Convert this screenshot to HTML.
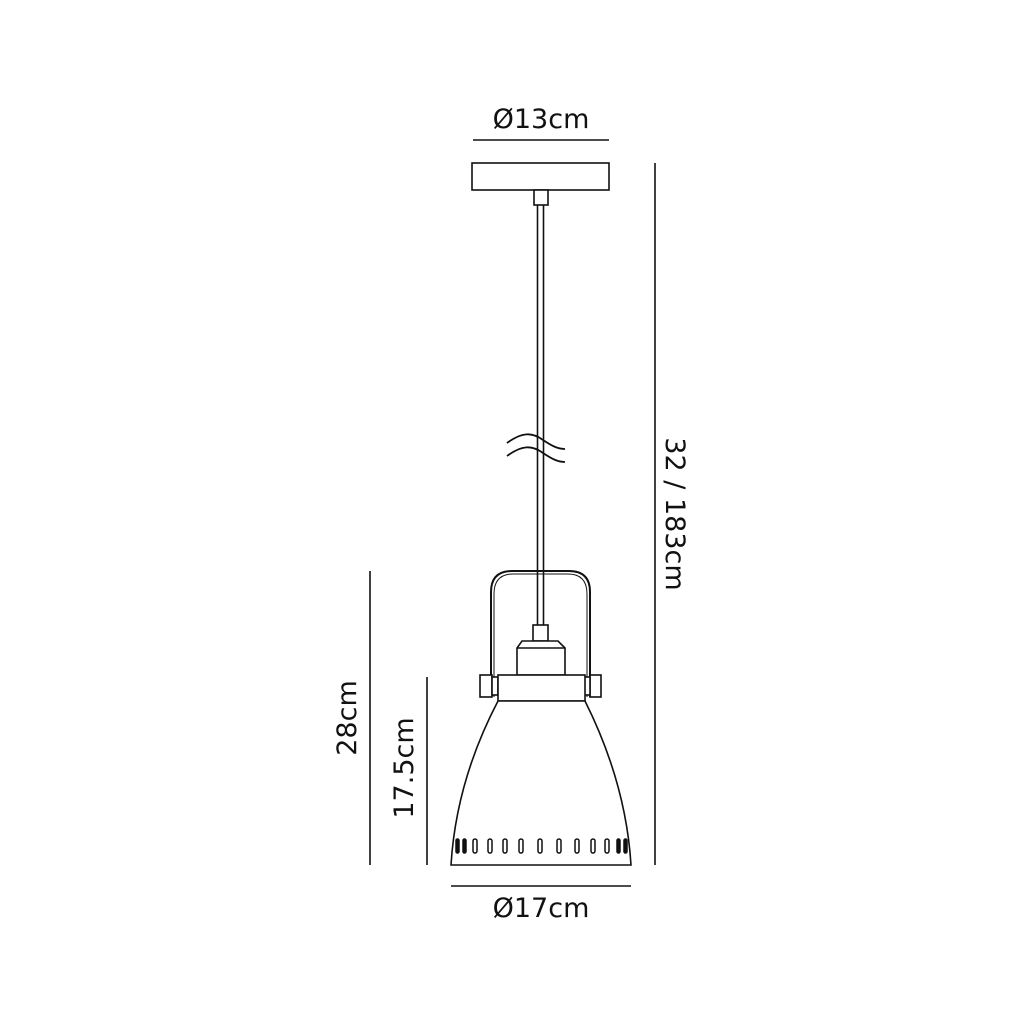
<!DOCTYPE html>
<html><head><meta charset="utf-8"><style>
html,body{margin:0;padding:0;background:#fff;width:1024px;height:1024px;overflow:hidden}
text{font-family:"DejaVu Sans","Liberation Sans",sans-serif;font-size:27px;fill:#111}
</style></head><body>
<svg width="1024" height="1024" viewBox="0 0 1024 1024" xmlns="http://www.w3.org/2000/svg">
<g fill="none" stroke="#111" stroke-width="1.6">
<!-- dimension lines -->
<line x1="473" y1="140" x2="609" y2="140"/>
<line x1="655" y1="163" x2="655" y2="865"/>
<line x1="370" y1="571" x2="370" y2="865"/>
<line x1="427" y1="677" x2="427" y2="865"/>
<line x1="451" y1="886" x2="631" y2="886"/>
<!-- canopy -->
<rect x="472" y="163" width="137" height="27" fill="#fff"/>
<rect x="534" y="190" width="14" height="15" fill="#fff"/>
<!-- cord -->
<line x1="537.5" y1="205" x2="537.5" y2="625"/>
<line x1="543.5" y1="205" x2="543.5" y2="625"/>
<!-- break waves -->
<path d="M507 443 C522 432 532 432 543 440 C552 446 558 449 565 449" stroke-width="1.8"/>
<path d="M507 456 C522 445 532 445 543 453 C552 459 558 462 565 462" stroke-width="1.8"/>
<!-- bracket -->
<path d="M491 697 L491 592 Q491 571 512 571 L569 571 Q590 571 590 592 L590 697" stroke-width="2"/>
<path d="M494 697 L494 594 Q494 574 513 574 L568 574 Q587 574 587 594 L587 697" stroke-width="1"/>
<!-- collar & socket -->
<rect x="533" y="625" width="15" height="16" fill="#fff"/>
<path d="M522 641 L558 641 L565 648 L565 675 L517 675 L517 648 Z" fill="#fff"/>
<line x1="517" y1="648" x2="565" y2="648"/>
<!-- knobs -->
<rect x="480" y="675" width="12" height="22" fill="#fff"/>
<rect x="492" y="677" width="6" height="18" fill="#fff"/>
<rect x="590" y="675" width="11" height="22" fill="#fff"/>
<rect x="584" y="677" width="6" height="18" fill="#fff"/>
<!-- band -->
<rect x="498" y="675" width="87" height="26" fill="#fff"/>
<!-- shade -->
<path d="M498 701 C475 745 455 800 451 865 L631 865 C627 800 607 745 585 701 Z" fill="#fff"/>
</g>
<!-- slots -->
<g fill="none" stroke="#111" stroke-width="1.5">
<rect x="456" y="839" width="3" height="14" rx="1.5" fill="#111"/>
<rect x="463" y="839" width="3" height="14" rx="1.5" fill="#111"/>
<rect x="473" y="839" width="4" height="14" rx="2"/>
<rect x="488" y="839" width="4" height="14" rx="2"/>
<rect x="503" y="839" width="4" height="14" rx="2"/>
<rect x="519" y="839" width="4" height="14" rx="2"/>
<rect x="538" y="839" width="4" height="14" rx="2"/>
<rect x="557" y="839" width="4" height="14" rx="2"/>
<rect x="575" y="839" width="4" height="14" rx="2"/>
<rect x="591" y="839" width="4" height="14" rx="2"/>
<rect x="605" y="839" width="4" height="14" rx="2"/>
<rect x="617" y="839" width="3" height="14" rx="1.5" fill="#111"/>
<rect x="624" y="839" width="3" height="14" rx="1.5" fill="#111"/>
</g>
<!-- labels -->
<text x="541" y="128" text-anchor="middle">Ø13cm</text>
<text x="541" y="917" text-anchor="middle">Ø17cm</text>
<text transform="translate(666,514) rotate(90)" text-anchor="middle">32 / 183cm</text>
<text transform="translate(356,718) rotate(-90)" text-anchor="middle">28cm</text>
<text transform="translate(413,768) rotate(-90)" text-anchor="middle">17.5cm</text>
</svg>
</body></html>
